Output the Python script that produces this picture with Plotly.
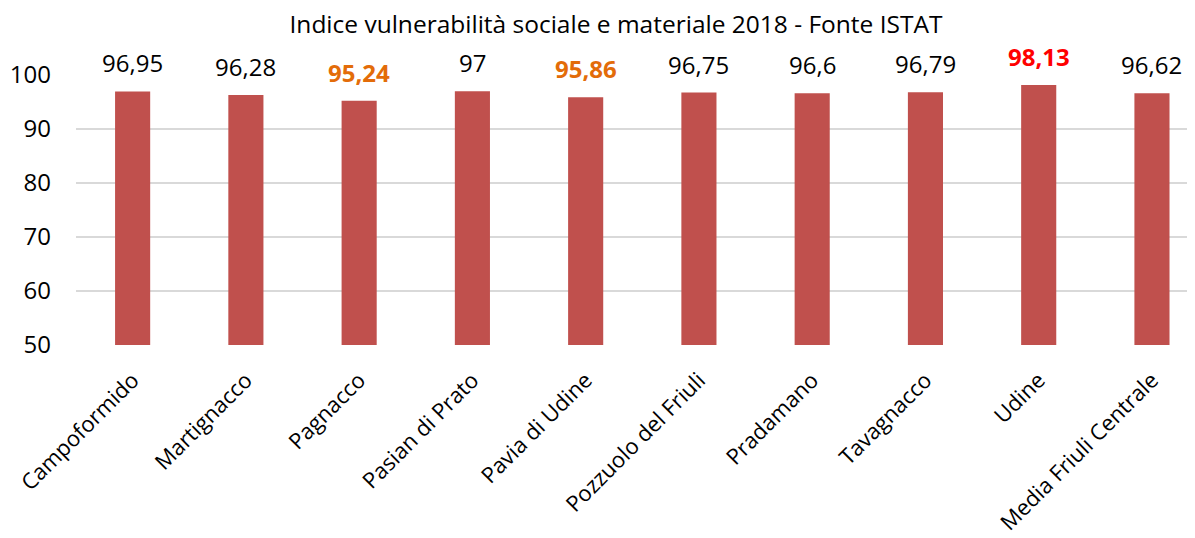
import plotly.graph_objects as go

categories = ["Campoformido", "Martignacco", "Pagnacco", "Pasian di Prato", "Pavia di Udine",
              "Pozzuolo del Friuli", "Pradamano", "Tavagnacco", "Udine", "Media Friuli Centrale"]
values = [96.95, 96.28, 95.24, 97.00, 95.86, 96.75, 96.60, 96.79, 98.13, 96.62]
value_labels = ["96,95", "96,28", "95,24", "97", "95,86", "96,75", "96,6", "96,79", "98,13", "96,62"]
label_colors = ["#000000", "#000000", "#E36C09", "#000000", "#E36C09",
                "#000000", "#000000", "#000000", "#FF0000", "#000000"]
label_bold = [False, False, True, False, True, False, False, False, True, False]
y_ticks = [50, 60, 70, 80, 90, 100]

FONT = "Open Sans"
W, H = 1187, 530  # page body adds an 8px offset

fig = go.Figure()
fig.add_trace(go.Bar(
    x=list(range(len(categories))),
    y=values,
    base=0,
    width=0.31,
    marker=dict(color="#C0504D", line=dict(width=0)),
    hoverinfo="skip",
))

for i, (v, lab, col, b) in enumerate(zip(values, value_labels, label_colors, label_bold)):
    fig.add_annotation(
        x=i, y=v, xref="x", yref="y",
        text=f"<b>{lab}</b>" if b else lab,
        showarrow=False, yanchor="bottom", yshift=10,
        font=dict(family=FONT, size=24, color=col),
    )

fig.update_layout(
    width=W, height=H,
    margin=dict(l=68, r=0, t=67, b=193, autoexpand=False),
    paper_bgcolor="white", plot_bgcolor="white",
    showlegend=False,
    title=dict(
        text="Indice vulnerabilità sociale e materiale 2018 - Fonte ISTAT",
        x=608 / W, xref="container", xanchor="center",
        y=1 - 16 / H, yref="container", yanchor="middle",
        font=dict(family=FONT, size=24.5, color="#000000"),
    ),
    xaxis=dict(
        range=[-0.5, 9.38],
        tickmode="array",
        tickvals=list(range(len(categories))),
        ticktext=categories,
        tickangle=-45,
        tickfont=dict(family=FONT, size=22, color="#000000"),
        showgrid=False, zeroline=False, showline=False,
        ticks="", ticklabelstandoff=17, automargin=False,
    ),
    yaxis=dict(
        range=[50, 100],
        tickmode="array",
        tickvals=y_ticks,
        ticktext=[str(t) for t in y_ticks],
        tickfont=dict(family=FONT, size=24, color="#000000"),
        showgrid=True, gridcolor="#D9D9D9", gridwidth=2,
        zeroline=False, showline=False,
        ticks="", ticklabelstandoff=24, automargin=False,
    ),
)

fig.write_html("out.html")
